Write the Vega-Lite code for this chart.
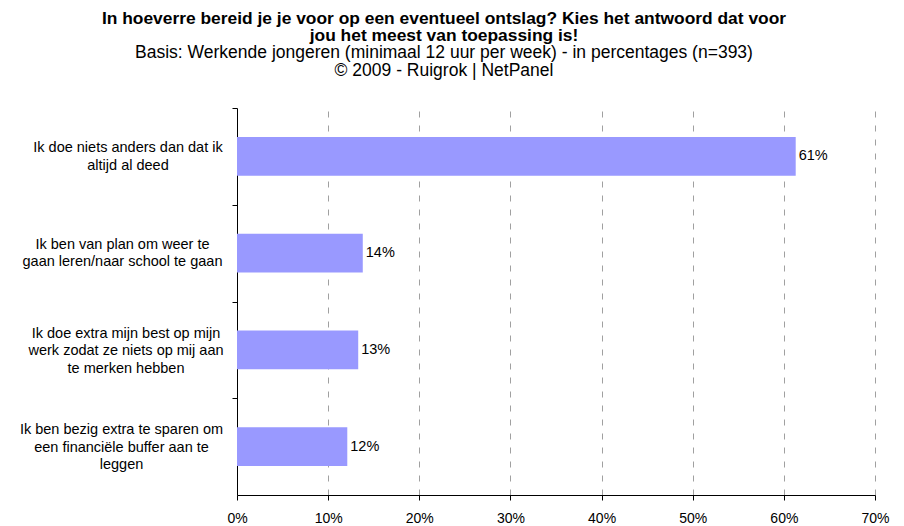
{
  "$schema": "https://vega.github.io/schema/vega-lite/v6.json",
  "width": 638,
  "height": 387,
  "autosize": "none",
  "padding": {"left": 237, "top": 108, "right": 29, "bottom": 31},
  "background": "white",
  "config": {
    "font": "Liberation Sans",
    "view": {"stroke": null}
  },
  "title": {
    "text": ["In hoeverre bereid je je voor op een eventueel ontslag? Kies het antwoord dat voor", "jou het meest van toepassing is!"],
    "subtitle": ["Basis: Werkende jongeren (minimaal 12 uur per week) - in percentages (n=393)", "©  2009 - Ruigrok | NetPanel"],
    "anchor": "middle",
    "frame": "group",
    "dx": -112,
    "offset": 28,
    "font": "Liberation Sans",
    "fontSize": 17.4,
    "fontWeight": "bold",
    "color": "black",
    "lineHeight": 17,
    "subtitleFont": "Liberation Sans",
    "subtitleFontSize": 17.5,
    "subtitleColor": "black",
    "subtitleLineHeight": 18,
    "subtitlePadding": 0
  },
  "data": {
    "values": [
      {"cat": "Ik doe niets anders dan dat ik|altijd al deed", "pct": 61.3, "txt": "61%"},
      {"cat": "Ik ben van plan om weer te|gaan leren/naar school te gaan", "pct": 13.8, "txt": "14%"},
      {"cat": "Ik doe extra mijn best op mijn|werk zodat ze niets op mij aan|te merken hebben", "pct": 13.3, "txt": "13%"},
      {"cat": "Ik ben bezig extra te sparen om|een financiële buffer aan te|leggen", "pct": 12.1, "txt": "12%"}
    ]
  },
  "encoding": {
    "y": {
      "field": "cat",
      "type": "nominal",
      "sort": null,
      "scale": {"paddingInner": 0.6, "paddingOuter": 0.3},
      "axis": {
        "title": null,
        "labelExpr": "split(datum.label, '|')",
        "labelAlign": "center",
        "labelBaseline": "middle",
        "labelPadding": {
          "condition": [
            {"test": "datum.value == 'Ik doe niets anders dan dat ik|altijd al deed'", "value": 104.5},
            {"test": "datum.value == 'Ik ben van plan om weer te|gaan leren/naar school te gaan'", "value": 110},
            {"test": "datum.value == 'Ik doe extra mijn best op mijn|werk zodat ze niets op mij aan|te merken hebben'", "value": 106.5}
          ],
          "value": 111
        },
        "labelOffset": {
          "condition": [
            {"test": "datum.value == 'Ik doe niets anders dan dat ik|altijd al deed'", "value": 39.6},
            {"test": "datum.value == 'Ik ben van plan om weer te|gaan leren/naar school te gaan'", "value": 39.6}
          ],
          "value": 31.5
        },
        "labelFontSize": 14.5,
        "labelLineHeight": 17.5,
        "labelColor": "black",
        "labelLimit": 300,
        "domainColor": "black",
        "tickColor": "black",
        "tickSize": 5,
        "tickOffset": -48.375,
        "grid": false
      }
    },
    "x": {
      "field": "pct",
      "type": "quantitative",
      "scale": {"domain": [0, 70], "nice": false},
      "axis": {
        "title": null,
        "values": [0, 10, 20, 30, 40, 50, 60, 70],
        "labelExpr": "datum.value + '%'",
        "labelFontSize": 14,
        "labelColor": "black",
        "labelPadding": 11,
        "labelFlush": false,
        "domainColor": "black",
        "tickColor": "black",
        "tickSize": 5,
        "grid": true,
        "gridColor": "#a0a0a0",
        "gridDash": [6, 8],
        "gridWidth": 1
      }
    }
  },
  "layer": [
    {
      "mark": {"type": "bar", "color": "#9999ff"}
    },
    {
      "mark": {"type": "text", "align": "left", "baseline": "middle", "dx": 3, "fontSize": 14.5, "color": "black", "font": "Liberation Sans"},
      "encoding": {"text": {"field": "txt"}}
    }
  ]
}
